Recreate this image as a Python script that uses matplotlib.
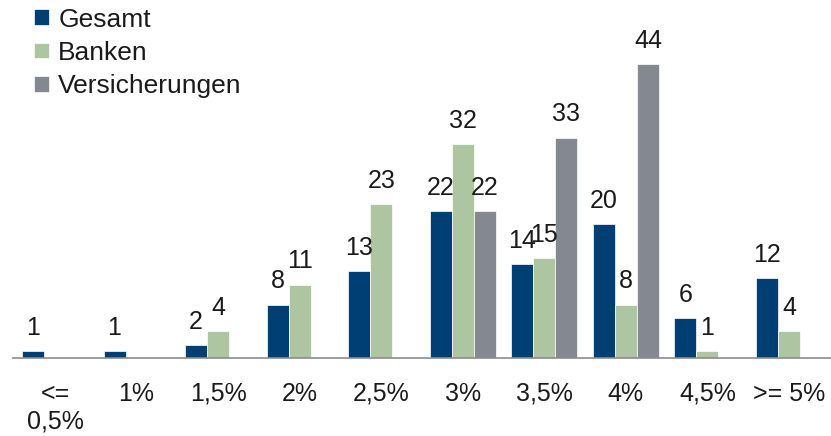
import numpy as np
import matplotlib.pyplot as plt

plt.rcParams['font.family'] = ['Liberation Sans', 'DejaVu Sans']

categories = ['<=\n0,5%', '1%', '1,5%', '2%', '2,5%', '3%', '3,5%', '4%', '4,5%', '>= 5%']
gesamt = [1, 1, 2, 8, 13, 22, 14, 20, 6, 12]
banken = [0, 0, 4, 11, 23, 32, 15, 8, 1, 4]
versicherungen = [0, 0, 0, 0, 0, 22, 33, 44, 0, 0]

series = [('Gesamt', gesamt, '#003f73'),
          ('Banken', banken, '#adc6a1'),
          ('Versicherungen', versicherungen, '#848991')]

fig = plt.figure(figsize=(8.31, 4.36), dpi=100)
ax = fig.add_axes([13 / 831, 78 / 436, 818 / 831, 358 / 436])

x = np.arange(len(categories))
w = 0.27
for i, (name, vals, col) in enumerate(series):
    pos = x + (i - 1) * w
    ax.bar(pos, vals, w, color=col, label=name, edgecolor='white', linewidth=0.5)
    for p, v in zip(pos, vals):
        if v > 0:
            ax.annotate(str(v), (p, v), xytext=(0, 8), textcoords='offset points',
                        ha='center', va='bottom', fontsize=18, color='#1a1a1a')

ax.set_xlim(-0.515, 9.515)
ax.set_ylim(0, 53.6)
ax.set_xticks(x)
ax.set_xticklabels(categories, fontsize=18, color='#1a1a1a', linespacing=1.2, va='top')
ax.tick_params(axis='x', length=0, pad=17)
ax.set_yticks([])
for s in ['top', 'right', 'left']:
    ax.spines[s].set_visible(False)
ax.spines['bottom'].set_color('#8c8c8c')
ax.spines['bottom'].set_linewidth(1.2)

leg = ax.legend(loc='upper left', bbox_to_anchor=(16 / 831, 1.025), bbox_transform=fig.transFigure,
                frameon=False, fontsize=19, handlelength=0.55, handleheight=0.55,
                handletextpad=0.35, labelspacing=0.35, borderpad=0.2)
for t in leg.get_texts():
    t.set_color('#1a1a1a')

fig.savefig('out.png', dpi=100)
